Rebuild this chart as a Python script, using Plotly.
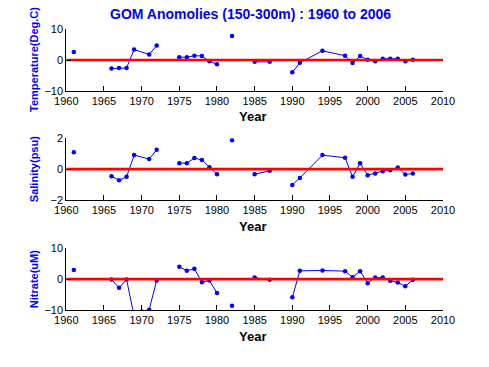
import plotly.graph_objects as go

# ---- data ----
years_ts = [1961, 1963, 1966, 1967, 1968, 1969, 1971, 1972, 1974, 1975, 1976, 1977, 1978,
            1979, 1980, 1981, 1982, 1984, 1985, 1987, 1989, 1990, 1991, 1994, 1997, 1998,
            1999, 2000, 2001, 2002, 2003, 2004, 2005, 2006]
temperature = [2.6, None, -2.8, -2.6, -2.6, 3.4, 1.8, 4.7, None, 0.9, 0.9, 1.4, 1.3,
               -0.4, -1.4, None, 7.8, None, -0.6, -0.6, None, -4.0, -0.9, 3.0, 1.4, -1.0,
               1.3, 0.1, -0.4, 0.4, 0.4, 0.4, -0.4, 0.1]
salinity = [1.1, None, -0.46, -0.72, -0.5, 0.91, 0.65, 1.26, None, 0.39, 0.39, 0.72, 0.59,
            0.13, -0.33, None, 1.87, None, -0.33, -0.11, None, -1.02, -0.57, 0.91, 0.74, -0.5,
            0.39, -0.39, -0.28, -0.13, -0.07, 0.11, -0.35, -0.28]
years_no3 = [1961, 1963, 1966, 1967, 1968, 1969, 1970, 1971, 1972, 1974, 1975, 1976, 1977, 1978,
             1979, 1980, 1981, 1982, 1984, 1985, 1987, 1989, 1990, 1991, 1994, 1997, 1998,
             1999, 2000, 2001, 2002, 2003, 2004, 2005, 2006]
nitrate = [3.0, None, -0.1, -2.8, -0.1, -12.0, -10.5, -9.9, -0.4, None, 4.0, 2.7, 3.4, -1.0,
           -0.4, -4.5, None, -8.6, None, 0.5, -0.2, None, -5.9, 2.7, 2.8, 2.6, 0.6,
           2.6, -1.3, 0.5, 0.5, -0.5, -1.1, -2.3, -0.2]

x_range = [1960, 2010]
x_ticks = [1960, 1965, 1970, 1975, 1980, 1985, 1990, 1995, 2000, 2005, 2010]
panels = [
    ("Temperature(Deg.C)", years_ts, temperature, [-10, 10], [-10, 0, 10]),
    ("Salinity(psu)", years_ts, salinity, [-2, 2], [-2, 0, 2]),
    ("Nitrate(uM)", years_no3, nitrate, [-10, 10], [-10, 0, 10]),
]
title = "GOM Anomolies (150-300m) : 1960 to 2006"

W, H = 489, 367
FONT = "Liberation Sans, Arial, sans-serif"
# pixel boxes for each panel (top, bottom)
boxes = [(29.3, 90.7), (138.3, 200.0), (248.3, 310.0)]
x0, x1 = 66.3, 443.0

fig = go.Figure()
layout = dict(
    width=W, height=H, margin=dict(l=0, r=0, t=0, b=0, autoexpand=False),
    paper_bgcolor="white", plot_bgcolor="white", showlegend=False,
    font=dict(family=FONT, size=11, color="black"),
)
annotations = []
for i, (label, xs, ys, yr, yt) in enumerate(panels):
    n = "" if i == 0 else str(i + 1)
    top, bot = boxes[i]
    layout["xaxis" + n] = dict(
        domain=[x0 / W, x1 / W], range=x_range, tickvals=x_ticks, automargin=False,
        showline=True, linecolor="black", linewidth=1, mirror=False,
        ticks="inside", ticklen=5, tickcolor="black", showgrid=False, zeroline=False,
        tickfont=dict(size=11, color="black", family=FONT), anchor="y" + n,
    )
    layout["yaxis" + n] = dict(
        domain=[(H - bot) / H, (H - top) / H], range=yr, tickvals=yt, automargin=False,
        showline=True, linecolor="black", linewidth=1, mirror=False,
        ticks="inside", ticklen=5, tickcolor="black", showgrid=False, zeroline=False,
        tickfont=dict(size=11, color="black", family=FONT), anchor="x" + n,
    )
    fig.add_trace(go.Scatter(
        x=xs, y=ys, mode="lines+markers", connectgaps=False,
        line=dict(color="#0000FF", width=1),
        marker=dict(color="#0000FF", size=4.5, symbol="circle"),
        xaxis="x" + n, yaxis="y" + n,
    ))
    fig.add_trace(go.Scatter(
        x=x_range, y=[0, 0], mode="lines",
        line=dict(color="#FF0000", width=2.6),
        xaxis="x" + n, yaxis="y" + n,
    ))
    annotations.append(dict(
        text="<b>Year</b>", xref="paper", yref="paper",
        x=252 / W, y=(H - (bot + 26)) / H, showarrow=False,
        font=dict(size=13, color="black", family=FONT),
        xanchor="center", yanchor="middle",
    ))
    annotations.append(dict(
        text="<b>" + label + "</b>", xref="paper", yref="paper",
        x=34 / W, y=(H - (top + bot) / 2) / H, showarrow=False, textangle=-90,
        font=dict(size=11, color="#0000FF", family=FONT),
        xanchor="center", yanchor="middle",
    ))
annotations.append(dict(
    text="<b>" + title + "</b>", xref="paper", yref="paper",
    x=250 / W, y=(H - 14) / H, showarrow=False,
    font=dict(size=14, color="#0000FF", family=FONT),
    xanchor="center", yanchor="middle",
))
layout["annotations"] = annotations
fig.update_layout(**layout)
fig.write_html("out.html", config={"displayModeBar": False},
               post_script="document.body.style.margin='0';document.body.style.overflow='hidden';")
